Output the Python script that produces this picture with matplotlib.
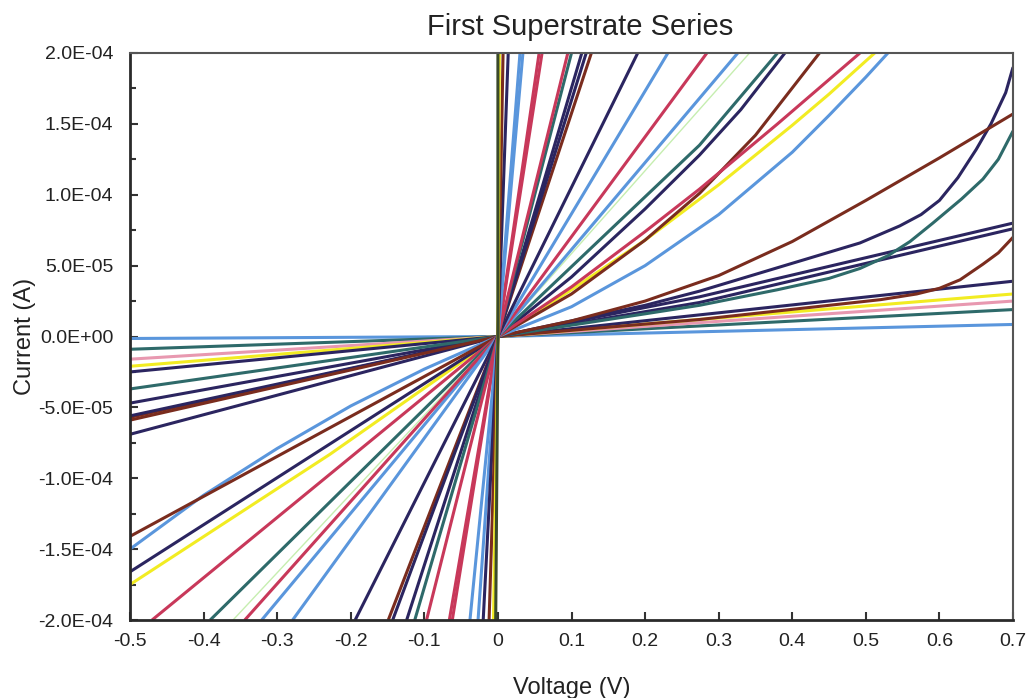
import matplotlib
matplotlib.use("Agg")
import matplotlib.pyplot as plt
from matplotlib.ticker import MultipleLocator, FuncFormatter

plt.rcParams['font.family'] = ['Liberation Sans', 'DejaVu Sans']

# Palette of the measured devices
NAVY = "#2b2560"
RED = "#c8385a"
TEAL = "#2e6a6a"
BLUE = "#5a96dc"
YELLOW = "#f2ec22"
BROWN = "#7a2c1e"
PINK = "#e898b0"
LGREEN = "#c6eeb0"
OLIVE = "#3a4a2a"

# I-V sweeps: voltage (V) and current (uA) for every device
curve_colors = [
    BLUE, TEAL, PINK, YELLOW, NAVY, BROWN, NAVY, NAVY, TEAL, NAVY, BROWN,
    BLUE, YELLOW, NAVY, BROWN, RED, TEAL, LGREEN, BLUE, RED, BLUE, NAVY,
    BROWN, NAVY, NAVY, TEAL, RED, RED, RED, BLUE, BLUE, NAVY, BROWN,
    YELLOW, OLIVE,
]

curve_voltage = [
    [-0.5, 0, 0.7],
    [-0.5, 0, 0.7],
    [-0.5, 0, 0.7],
    [-0.5, 0, 0.274, 0.7],
    [-0.5, 0, 0.7],
    [-0.5, 0, 0.274, 0.45, 0.52, 0.569, 0.6, 0.628, 0.659, 0.68, 0.7],
    [-0.5, 0, 0.274, 0.7],
    [-0.5, 0, 0.274, 0.7],
    [-0.5, 0, 0.1, 0.2, 0.274, 0.38, 0.45, 0.492, 0.53, 0.56, 0.591, 0.63,
     0.659, 0.68, 0.7],
    [-0.5, 0, 0.1, 0.2, 0.274, 0.383, 0.492, 0.546, 0.575, 0.6, 0.625, 0.65,
     0.67, 0.69, 0.7],
    [-0.5, 0, 0.1, 0.2, 0.3, 0.4, 0.5, 0.6, 0.7],
    [-0.5, -0.4, -0.3, -0.2, -0.1, 0, 0.1, 0.2, 0.3, 0.4, 0.45, 0.5, 0.53],
    [-0.5, -0.228, 0, 0.1, 0.2, 0.3, 0.4, 0.45, 0.512],
    [-0.5, 0, 0.1, 0.2, 0.274, 0.33, 0.39],
    [-0.5, 0, 0.1, 0.2, 0.274, 0.35, 0.437],
    [-0.470, 0, 0.1, 0.2, 0.274, 0.38, 0.492],
    [-0.391, 0, 0.274, 0.38],
    [-0.36, 0, 0.342],
    [-0.321, 0, 0.326],
    [-0.344, 0, 0.284],
    [-0.279, 0, 0.231],
    [-0.194, 0, 0.19],
    [-0.149, 0, 0.127],
    [-0.143, 0, 0.12],
    [-0.124, 0, 0.114],
    [-0.113, 0, 0.10],
    [-0.097, 0, 0.095],
    [-0.066, 0, 0.060],
    [-0.062, 0, 0.056],
    [-0.038, 0, 0.034],
    [-0.027, 0, 0.030],
    [-0.020, 0, 0.014],
    [-0.012, 0, 0.007],
    [-0.006, 0, 0.002],
    [-0.003, 0, 0.0],
]

curve_current_uA = [
    [-1.4, 0, 8.5],
    [-9, 0, 19],
    [-16, 0, 25],
    [-21, 0, 12, 30],
    [-25, 0, 39],
    [-57, 0, 12, 22, 26, 30, 34, 40, 51, 59, 70],
    [-47, 0, 24, 76],
    [-56, 0, 28, 80],
    [-37, 0, 8, 16, 22, 33, 41, 48, 57, 67, 80, 97, 111, 125, 145],
    [-69, 0, 11, 22, 32, 49, 66, 78, 86, 96, 112, 132, 150, 172, 190],
    [-59, 0, 11, 25, 43, 67, 96, 126, 157],
    [-150, -112, -79, -49, -23, 0, 21, 50, 86, 130, 156, 183, 200],
    [-175, -83, 0, 33, 68, 107, 149, 171, 200],
    [-166, 0, 42, 90, 128, 160, 200],
    [-141, 0, 30, 68, 101, 142, 200],
    [-200, 0, 35, 74, 104, 150, 200],
    [-200, 0, 135, 200],
    [-200, 0, 200],
    [-200, 0, 200],
    [-200, 0, 200],
    [-200, 0, 200],
    [-200, 0, 200],
    [-200, 0, 200],
    [-200, 0, 200],
    [-200, 0, 200],
    [-200, 0, 200],
    [-200, 0, 200],
    [-200, 0, 200],
    [-200, 0, 200],
    [-200, 0, 200],
    [-200, 0, 200],
    [-200, 0, 200],
    [-200, 0, 200],
    [-200, 0, 200],
    [-200, 0, 200],
]

fig = plt.figure(figsize=(10.29, 6.98), dpi=100)
ax = fig.add_axes([0.1263, 0.1117, 0.8582, 0.8124])

for color, v, i_ua in zip(curve_colors, curve_voltage, curve_current_uA):
    lw = 1.0 if color == LGREEN else 2.2
    ax.plot(v, [c * 1e-6 for c in i_ua], color=color, lw=lw,
            solid_capstyle='butt', solid_joinstyle='round')

ax.set_xlim(-0.5, 0.7)
ax.set_ylim(-2e-4, 2e-4)

ax.xaxis.set_major_locator(MultipleLocator(0.1))
ax.yaxis.set_major_locator(MultipleLocator(5e-5))
ax.yaxis.set_minor_locator(MultipleLocator(2.5e-5))


def fmt_x(v, _):
    v = round(v, 1)
    return "0" if v == 0 else f"{v:g}"


ax.xaxis.set_major_formatter(FuncFormatter(fmt_x))
ax.yaxis.set_major_formatter(FuncFormatter(lambda v, _: f"{v:.1E}"))

ax.tick_params(axis='both', which='both', direction='in', colors='#333333',
               labelcolor='#222222', labelsize=14, width=1.5)
ax.tick_params(axis='x', which='major', length=6, pad=9, top=False)
ax.tick_params(axis='y', which='major', length=6, pad=12, right=False)
ax.tick_params(axis='y', which='minor', length=4, right=False)

for side in ('left', 'bottom'):
    ax.spines[side].set_color('#2a2a2a')
    ax.spines[side].set_linewidth(2.0)
for side in ('top', 'right'):
    ax.spines[side].set_color('#555555')
    ax.spines[side].set_linewidth(1.5)

ax.set_xlabel("Voltage (V)", fontsize=17, color='#222222', labelpad=20)
ax.set_ylabel("Current (A)", fontsize=17, color='#222222', labelpad=2)
ax.set_title("First Superstrate Series", fontsize=21, color='#222222',
             x=0.51, pad=13)

fig.savefig("out.png", dpi=100, facecolor='white')
